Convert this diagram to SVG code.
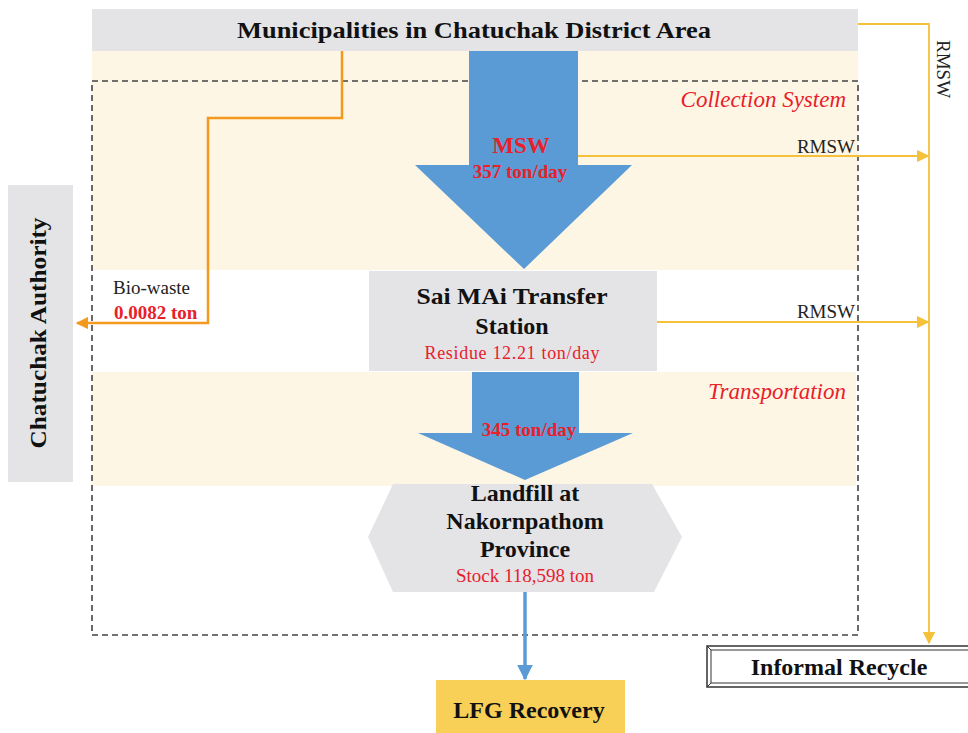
<svg xmlns="http://www.w3.org/2000/svg" width="968" height="733" viewBox="0 0 968 733">
  <defs>
    <style>
      .serif { font-family: "Liberation Serif", "Times New Roman", serif; }
      .title { font-family: "Liberation Serif", serif; font-weight: bold; font-size: 24px; fill: #111; }
      .red { fill: #E8202A; }
      .lbl { font-family: "Liberation Serif", serif; font-size: 19px; fill: #222; }
      .stage { font-family: "Liberation Serif", serif; font-style: italic; font-size: 23px; fill: #E8202A; }
      .box { fill: #E4E4E7; }
      .band { fill: #FEF6E4; }
      .flow { fill: #5B9BD5; }
      .bio { fill: none; stroke: #F39A1E; stroke-width: 2.5; }
      .rmsw { fill: none; stroke: #F5C13A; stroke-width: 1.8; }
    </style>
    <marker id="headOrange" viewBox="0 0 10 10" refX="9" refY="5" markerWidth="5" markerHeight="5" orient="auto">
      <path d="M0,0 L10,5 L0,10 z" fill="#F39A1E"/>
    </marker>
    <marker id="headYellow" viewBox="0 0 10 10" refX="9" refY="5" markerWidth="7" markerHeight="7" orient="auto">
      <path d="M0,0 L10,5 L0,10 z" fill="#F5C13A"/>
    </marker>
    <marker id="headBlue" viewBox="0 0 10 10" refX="9" refY="5" markerWidth="4.5" markerHeight="4.5" orient="auto">
      <path d="M0,0 L10,5 L0,10 z" fill="#5B9BD5"/>
    </marker>
  </defs>

  <rect width="968" height="733" fill="#FFFFFF"/>

  <!-- stage bands -->
  <g id="bands">
    <rect class="band" x="92" y="51" width="766" height="219"/>
    <rect class="band" x="92" y="372" width="764" height="114"/>
  </g>

  <!-- system boundary -->
  <rect id="boundary" x="92" y="81" width="766" height="554" fill="none" stroke="#444" stroke-width="1.6" stroke-dasharray="6 4"/>

  <text class="stage" x="846" y="107" text-anchor="end">Collection System</text>
  <text class="stage" x="846" y="399" text-anchor="end">Transportation</text>

  <!-- source -->
  <g id="municipalities">
    <rect class="box" x="92" y="9" width="766" height="42"/>
    <text class="title" x="474" y="38" text-anchor="middle" textLength="474" lengthAdjust="spacingAndGlyphs">Municipalities  in  Chatuchak  District  Area</text>
  </g>

  <!-- connectors -->
  <g id="connectors">
    <!-- MSW bulk flow -->
    <path class="flow" d="M469,51 L578,51 L578,165 L632,165 L524,269 L415,165 L469,165 Z"/>
    <!-- transported flow -->
    <path class="flow" d="M472,372 L579,372 L579,433 L633,433 L525,480 L418,433 L472,433 Z"/>
    <!-- landfill gas -->
    <line x1="525" y1="592" x2="525" y2="679" stroke="#5B9BD5" stroke-width="3.5" marker-end="url(#headBlue)"/>
    <!-- bio-waste -->
    <path class="bio" d="M342,51 L342,118 L208,118 L208,323 L77,323" marker-end="url(#headOrange)"/>
    <!-- recyclables to informal sector -->
    <path class="rmsw" d="M858,24 L929,24 L929,643" marker-end="url(#headYellow)"/>
    <line class="rmsw" x1="578" y1="156" x2="928" y2="156" marker-end="url(#headYellow)"/>
    <line class="rmsw" x1="657" y1="322" x2="928" y2="322" marker-end="url(#headYellow)"/>
  </g>

  <text class="lbl" x="937" y="40" transform="rotate(90 937 40)">RMSW</text>
  <text class="lbl" x="855" y="153" text-anchor="end">RMSW</text>
  <text class="lbl" x="855" y="318" text-anchor="end">RMSW</text>
  <text class="lbl" x="113" y="294">Bio-waste</text>
  <text class="serif red" x="114" y="319" font-size="19" font-weight="bold">0.0082 ton</text>

  <text class="serif red" x="521" y="153" font-size="23" font-weight="bold" text-anchor="middle">MSW</text>
  <text class="serif red" x="520" y="178" font-size="19" font-weight="bold" text-anchor="middle">357 ton/day</text>
  <text class="serif red" x="529" y="436" font-size="19" font-weight="bold" text-anchor="middle">345 ton/day</text>

  <g id="authority">
    <rect class="box" x="8" y="185" width="65" height="297"/>
    <text class="title" x="0" y="0" transform="translate(46 333) rotate(-90)" text-anchor="middle" textLength="231" lengthAdjust="spacingAndGlyphs">Chatuchak  Authority</text>
  </g>

  <g id="transfer-station">
    <rect class="box" x="369" y="271" width="288" height="100"/>
    <text class="title" x="512" y="304" text-anchor="middle" textLength="191" lengthAdjust="spacingAndGlyphs">Sai MAi Transfer</text>
    <text class="title" x="512" y="334" text-anchor="middle">Station</text>
    <text class="serif red" x="512" y="359" font-size="18" text-anchor="middle" textLength="175" lengthAdjust="spacing">Residue  12.21 ton/day</text>
  </g>

  <g id="landfill">
    <polygon class="box" points="368,537 393,484 652,484 682,537 654,592 393,592"/>
    <text class="title" x="525" y="501" text-anchor="middle">Landfill at</text>
    <text class="title" x="525" y="529" text-anchor="middle">Nakornpathom</text>
    <text class="title" x="525" y="557" text-anchor="middle">Province</text>
    <text class="serif red" x="525" y="582" font-size="19" text-anchor="middle">Stock 118,598 ton</text>
  </g>

  <g id="lfg-recovery">
    <rect x="436" y="680" width="189" height="53" fill="#F8CF57"/>
    <text class="title" x="529" y="718" text-anchor="middle" font-size="21.5">LFG Recovery</text>
  </g>

  <g id="informal-recycle">
    <rect x="707" y="646" width="270" height="41" fill="#FFFFFF" stroke="#333" stroke-width="1.5"/>
    <rect x="711" y="650" width="262" height="33" fill="none" stroke="#333" stroke-width="1"/>
    <line x1="707" y1="646" x2="711" y2="650" stroke="#333" stroke-width="1"/>
    <line x1="707" y1="687" x2="711" y2="683" stroke="#333" stroke-width="1"/>
    <text class="title" x="839" y="675" text-anchor="middle" font-size="21">Informal Recycle</text>
  </g>
</svg>
